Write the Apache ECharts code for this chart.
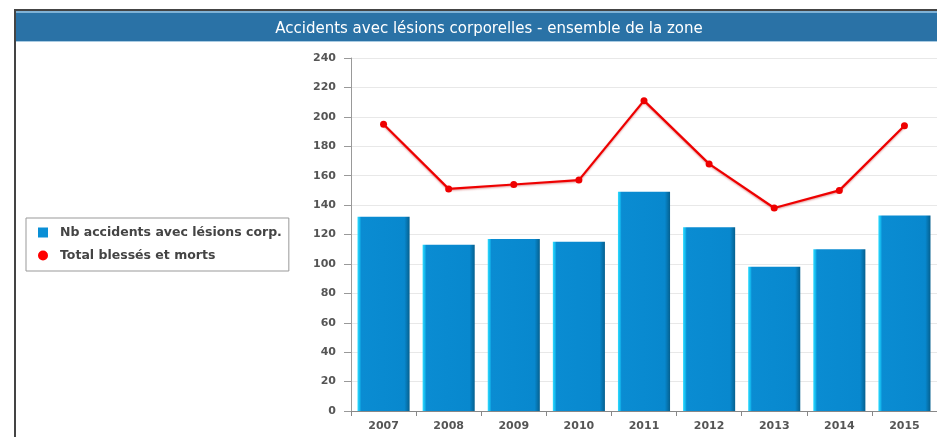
<!DOCTYPE html>
<html>
<head>
<meta charset="utf-8">
<script src="https://cdn.jsdelivr.net/npm/echarts@6/dist/echarts.min.js"></script>
<style>
html,body{margin:0;padding:0;background:#fff;overflow:hidden;}
#c{width:937px;height:437px;}
</style>
</head>
<body>
<div id="c"></div>
<script>
const categories = ['2007','2008','2009','2010','2011','2012','2013','2014','2015'];
const accidents = [132, 113, 117, 115, 149, 125, 98, 110, 133];
const victims = [195, 151, 154, 157, 211, 168, 138, 150, 194];
const yTicks = {min: 0, max: 240, interval: 20};
const titleText = 'Accidents avec lésions corporelles - ensemble de la zone';
const seriesNames = ['Nb accidents avec lésions corp.', 'Total blessés et morts'];

const chart = echarts.init(document.getElementById('c'), null, {renderer: 'canvas'});
const labelFont = {fontFamily: 'DejaVu Sans', fontWeight: 'bold', fontSize: 11, color: '#555'};

chart.setOption({
  animation: false,
  backgroundColor: '#fff',
  graphic: [
    {type: 'rect', shape: {x: 15, y: 10, width: 960, height: 460}, style: {fill: 'none', stroke: '#444', lineWidth: 2}, z: 0},
    {type: 'rect', shape: {x: 16, y: 11, width: 960, height: 30}, style: {fill: '#2a72a6'}, z: 1},
    {type: 'rect', shape: {x: 16, y: 11, width: 960, height: 2}, style: {fill: '#7fb2d6'}, z: 2},
    {type: 'rect', shape: {x: 16, y: 41, width: 960, height: 1}, style: {fill: '#a9cbe2'}, z: 2}
  ],
  title: {
    text: titleText,
    left: 484, top: 17, textAlign: 'center',
    textStyle: {color: '#fff', fontFamily: 'DejaVu Sans', fontWeight: 'normal', fontSize: 15}
  },
  legend: {
    orient: 'vertical',
    left: 26, top: 218,
    padding: [8, 7, 9, 12],
    itemGap: 10,
    itemWidth: 10, itemHeight: 10,
    borderColor: '#999', borderWidth: 1,
    textStyle: {fontFamily: 'DejaVu Sans', fontWeight: 'bold', fontSize: 12.5, color: '#444', padding: [0, 0, 0, 7]},
    data: [
      {name: seriesNames[0], icon: 'rect', itemStyle: {color: '#0a8fd6'}},
      {name: seriesNames[1], icon: 'circle', itemStyle: {color: '#ff0000'}}
    ]
  },
  grid: {left: 351, right: -8, top: 58, bottom: 26, containLabel: false},
  xAxis: {
    type: 'category',
    data: categories,
    boundaryGap: true,
    axisLine: {lineStyle: {color: '#888', width: 1}},
    axisTick: {show: true, length: 5, lineStyle: {color: '#888'}},
    axisLabel: Object.assign({margin: 10}, labelFont),
    splitLine: {show: false}
  },
  yAxis: {
    type: 'value',
    min: yTicks.min, max: yTicks.max, interval: yTicks.interval,
    axisLine: {show: true, lineStyle: {color: '#999', width: 1}},
    axisTick: {show: true, length: 7, lineStyle: {color: '#999'}},
    axisLabel: Object.assign({margin: 15}, labelFont),
    splitLine: {lineStyle: {color: '#e8e8e8', width: 1}}
  },
  series: [
    {
      name: seriesNames[0],
      type: 'bar',
      data: accidents,
      barCategoryGap: '20%',
      itemStyle: {
        color: new echarts.graphic.LinearGradient(0, 0, 1, 0, [
          {offset: 0, color: '#2fdcff'},
          {offset: 0.045, color: '#12b4ec'},
          {offset: 0.07, color: '#0a8cd2'},
          {offset: 0.9, color: '#0888ce'},
          {offset: 1, color: '#05608f'}
        ])
      },
      z: 2
    },
    {
      name: seriesNames[1],
      type: 'line',
      data: victims,
      symbol: 'circle',
      symbolSize: 7,
      lineStyle: {color: '#ee0000', width: 2.2, shadowColor: 'rgba(180,0,0,0.4)', shadowBlur: 2, shadowOffsetY: 1},
      itemStyle: {color: '#ee0000'},
      z: 3
    }
  ]
});
</script>
</body>
</html>
